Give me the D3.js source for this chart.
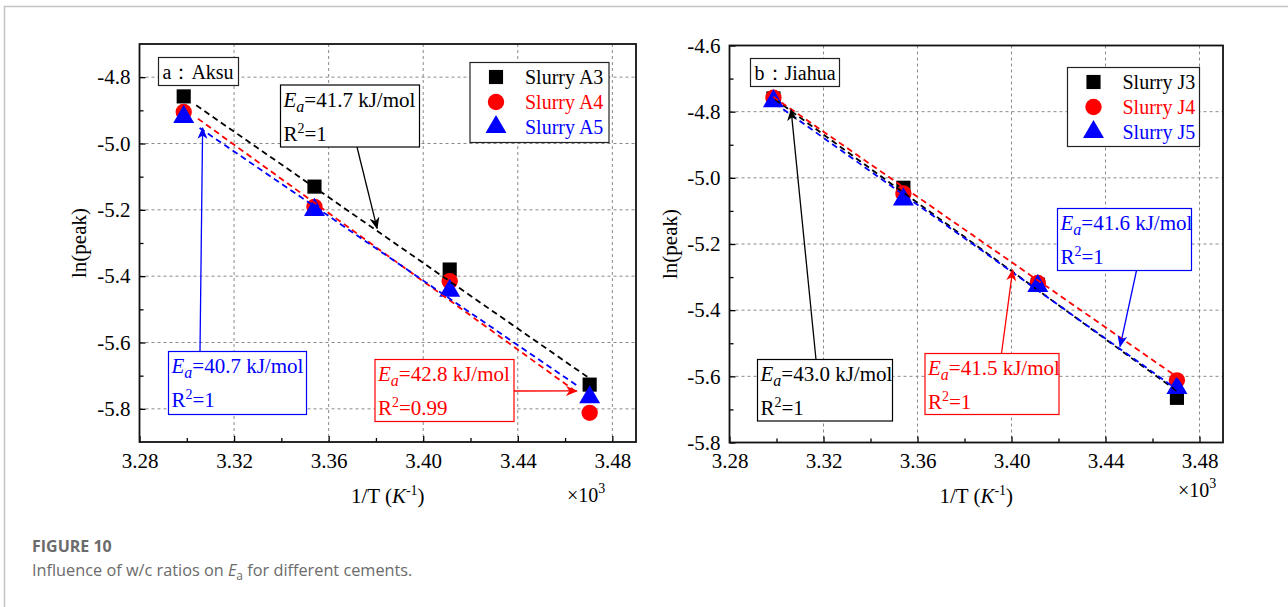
<!DOCTYPE html>
<html>
<head>
<meta charset="utf-8">
<script src="https://cdn.jsdelivr.net/npm/d3@7"></script>
<style>
  body { margin: 0; background: #fff; }
  svg { display: block; }
</style>
</head>
<body>
<div id="chart"></div>
<script>
// 1/T values (x10^-3 K^-1) for 30, 25, 20 and 15 °C
const invT = [3.2987, 3.3540, 3.4112, 3.4704]
const xTicks = [3.28, 3.32, 3.36, 3.40, 3.44, 3.48]
const xMinor = [3.30, 3.34, 3.38, 3.42, 3.46]
const aksuTicks = [-4.8, -5.0, -5.2, -5.4, -5.6, -5.8]
const aksuMinor = [-4.9, -5.1, -5.3, -5.5, -5.7]
const jiahuaTicks = [-4.6, -4.8, -5.0, -5.2, -5.4, -5.6, -5.8]
const jiahuaMinor = [-4.7, -4.9, -5.1, -5.3, -5.5, -5.7]

// ln(peak)
const slurryA3 = [-4.858, -5.130, -5.380, -5.727]
const slurryA4 = [-4.905, -5.191, -5.415, -5.812]
const slurryA5 = [-4.920, -5.200, -5.444, -5.765]
const slurryJ3 = [-4.760, -5.030, -5.323, -5.665]
const slurryJ4 = [-4.758, -5.047, -5.318, -5.612]
const slurryJ5 = [-4.768, -5.065, -5.327, -5.635]

// fitted lines (end points)
const fitA3 = [[3.304, -4.885], [3.4697, -5.705]]
const fitA4 = [[3.3047, -4.925], [3.465, -5.750]]
const fitA5 = [[3.3054, -4.953], [3.4657, -5.733]]
const fitJ3 = [[3.2994, -4.763], [3.4705, -5.645]]
const fitJ4 = [[3.2986, -4.755], [3.4717, -5.608]]
const fitJ5 = [[3.2994, -4.775], [3.4705, -5.640]]

const seriesNamesA = ["Slurry A3", "Slurry A4", "Slurry A5"]
const seriesNamesJ = ["Slurry J3", "Slurry J4", "Slurry J5"]
const colors = ["#000000", "#ff0000", "#0000ff"]
const shapes = [d3.symbolSquare, d3.symbolCircle, d3.symbolTriangle]
const symSizes = [200, 210, 190]

const serif = "'Liberation Serif', 'Times New Roman', serif"

const svg = d3.select("#chart").append("svg")
  .attr("width", 1288)
  .attr("height", 607)

// page frame
svg.append("path")
  .attr("d", "M4.5,607 L4.5,6.5 L1288,6.5")
  .attr("fill", "none")
  .attr("stroke", "#c4c4c4")
  .attr("stroke-width", 1.5)

// arrow heads
const defs = svg.append("defs")
colors.forEach((c, i) => {
  defs.append("marker")
    .attr("id", "arr" + i)
    .attr("viewBox", "0 0 12 10")
    .attr("refX", 11).attr("refY", 5)
    .attr("markerWidth", 12).attr("markerHeight", 10)
    .attr("markerUnits", "userSpaceOnUse")
    .attr("orient", "auto")
    .append("path")
    .attr("d", "M0,0 L12,5 L0,10 L3.5,5 Z")
    .attr("fill", c)
})

const eaText = (sel, x, y, value, r2, color) => {
  const t1 = sel.append("text")
    .attr("x", x).attr("y", y)
    .attr("fill", color)
    .attr("font-family", serif)
    .attr("font-size", 21)
  t1.append("tspan").attr("font-style", "italic").text("E")
  t1.append("tspan").attr("font-style", "italic").attr("font-size", 16).attr("dy", 5).text("a")
  t1.append("tspan").attr("dy", -5).text(`=${value} kJ/mol`)
  const t2 = sel.append("text")
    .attr("x", x).attr("y", y + 34)
    .attr("fill", color)
    .attr("font-family", serif)
    .attr("font-size", 21)
  t2.append("tspan").text("R")
  t2.append("tspan").attr("font-size", 14).attr("dy", -8).text("2")
  t2.append("tspan").attr("dy", 8).text(`=${r2}`)
}

const drawPanel = (p) => {
  const x = d3.scaleLinear().domain([3.28, 3.49]).range([p.left, p.right])
  const y = d3.scaleLinear().domain(p.yDomain).range([p.bottom, p.top])
  const g = svg.append("g")

  // grid
  g.selectAll(null)
    .data(xTicks.filter(d => d > 3.28))
    .join("line")
    .attr("x1", d => x(d)).attr("x2", d => x(d))
    .attr("y1", p.top).attr("y2", p.bottom)
    .attr("stroke", "#8a8a8a").attr("stroke-width", 1)
    .attr("stroke-dasharray", "3,3")
  g.selectAll(null)
    .data(p.yTicks.filter(d => y(d) > p.top + 1 && y(d) < p.bottom - 1))
    .join("line")
    .attr("x1", p.left).attr("x2", p.right)
    .attr("y1", d => y(d)).attr("y2", d => y(d))
    .attr("stroke", "#8a8a8a").attr("stroke-width", 1)
    .attr("stroke-dasharray", "3,3")

  // axes with inward ticks
  g.append("g")
    .attr("transform", `translate(0,${p.bottom})`)
    .call(d3.axisBottom(x).tickValues(xTicks).tickSizeInner(-6).tickSizeOuter(0)
      .tickPadding(11).tickFormat(d => d.toFixed(2)))
  g.append("g")
    .attr("transform", `translate(0,${p.bottom})`)
    .call(d3.axisBottom(x).tickValues(xMinor).tickSizeInner(-4).tickSizeOuter(0).tickFormat(""))
  g.append("g")
    .attr("transform", `translate(${p.left},0)`)
    .call(d3.axisLeft(y).tickValues(p.yTicks).tickSizeInner(-6).tickSizeOuter(0)
      .tickPadding(9).tickFormat(d => d.toFixed(1)))
  g.append("g")
    .attr("transform", `translate(${p.left},0)`)
    .call(d3.axisLeft(y).tickValues(p.yMinor).tickSizeInner(-4).tickSizeOuter(0).tickFormat(""))
  g.selectAll(".domain").remove()
  g.selectAll(".tick line").attr("stroke", "#000").attr("stroke-width", 1.3)
  g.selectAll(".tick text")
    .attr("font-family", serif)
    .attr("font-size", 21)
    .attr("fill", "#000")

  // frame
  g.append("rect")
    .attr("x", p.left).attr("y", p.top)
    .attr("width", p.right - p.left).attr("height", p.bottom - p.top)
    .attr("fill", "none").attr("stroke", "#111").attr("stroke-width", 1.8)

  // markers
  p.series.forEach((s, i) => {
    g.selectAll(null)
      .data(s)
      .join("path")
      .attr("transform", (d, j) => `translate(${x(invT[j])},${y(d)})`)
      .attr("d", d3.symbol(shapes[i], symSizes[i]))
      .attr("fill", colors[i])
  })

  // fit lines
  p.fits.forEach((f, i) => {
    g.append("path")
      .datum(f)
      .attr("fill", "none")
      .attr("stroke", colors[i])
      .attr("stroke-width", 1.8)
      .attr("stroke-dasharray", "6,4")
      .attr("d", d3.line()
        .x(function(d) { return x(d[0]) })
        .y(function(d) { return y(d[1]) })
      )
  })

  // panel label
  const lb = g.append("g")
  lb.append("rect")
    .attr("x", p.label.x).attr("y", p.label.y)
    .attr("width", p.label.w).attr("height", 28)
    .attr("fill", "#fff").attr("stroke", "#222").attr("stroke-width", 1.2)
  lb.append("text")
    .attr("x", p.label.x + 4).attr("y", p.label.y + 21)
    .attr("font-family", serif).attr("font-size", 20)
    .text(p.label.text)

  // legend
  const lg = g.append("g").attr("transform", `translate(${p.legend.x},${p.legend.y})`)
  lg.append("rect")
    .attr("width", p.legend.w).attr("height", p.legend.h)
    .attr("fill", "#fff").attr("stroke", "#222").attr("stroke-width", 1.2)
  p.names.forEach((n, i) => {
    lg.append("path")
      .attr("transform", `translate(26,${14.5 + i * 25})`)
      .attr("d", d3.symbol(shapes[i], symSizes[i]))
      .attr("fill", colors[i])
    lg.append("text")
      .attr("x", 55).attr("y", 21.5 + i * 25)
      .attr("font-family", serif).attr("font-size", 20)
      .attr("fill", colors[i])
      .text(n)
  })

  // annotations
  p.notes.forEach(a => {
    const c = colors[a.c]
    g.append("line")
      .attr("x1", a.from[0]).attr("y1", a.from[1])
      .attr("x2", x(a.to[0])).attr("y2", y(a.to[1]))
      .attr("stroke", c).attr("stroke-width", 1.3)
      .attr("marker-end", `url(#arr${a.c})`)
    g.append("rect")
      .attr("x", a.box[0]).attr("y", a.box[1])
      .attr("width", a.box[2]).attr("height", a.box[3])
      .attr("fill", "#fff").attr("stroke", c).attr("stroke-width", 1.2)
    eaText(g, a.box[0] + 3, a.box[1] + 21.5, a.ea, a.r2, c)
  })

  // axis titles
  g.append("text")
    .attr("transform", `translate(${p.yTitleX},${(p.top + p.bottom) / 2}) rotate(-90)`)
    .attr("text-anchor", "middle")
    .attr("font-family", serif).attr("font-size", 21)
    .text("ln(peak)")
  const xt = g.append("text")
    .attr("x", (p.left + p.right) / 2).attr("y", 503)
    .attr("text-anchor", "middle")
    .attr("font-family", serif).attr("font-size", 21)
  xt.append("tspan").text("1/T (")
  xt.append("tspan").attr("font-style", "italic").text("K")
  xt.append("tspan").attr("font-size", 14).attr("dy", -8).text("-1")
  xt.append("tspan").attr("dy", 8).text(")")
  const mul = g.append("text")
    .attr("x", p.mult[0]).attr("y", p.mult[1])
    .attr("font-family", serif).attr("font-size", 20)
  mul.append("tspan").text("×10")
  mul.append("tspan").attr("font-size", 14).attr("dy", -9).text("3")
}

drawPanel({
  left: 139.5, right: 636, top: 44, bottom: 442,
  yDomain: [-5.9, -4.7], yTicks: aksuTicks, yMinor: aksuMinor,
  series: [slurryA3, slurryA4, slurryA5],
  fits: [fitA3, fitA4, fitA5],
  names: seriesNamesA,
  label: { x: 158.5, y: 57.5, w: 80, text: "a：Aksu" },
  legend: { x: 470, y: 62.5, w: 139, h: 80 },
  notes: [
    { c: 0, ea: "41.7", r2: "1", box: [280.5, 85, 139, 62], from: [357, 147], to: [3.3805, -5.256] },
    { c: 2, ea: "40.7", r2: "1", box: [168.5, 351.5, 138, 63], from: [200, 351.5], to: [3.3067, -4.953] },
    { c: 1, ea: "42.8", r2: "0.99", box: [375, 359.5, 139, 62], from: [514, 391], to: [3.465, -5.746] }
  ],
  yTitleX: 86,
  mult: [567, 502]
})

drawPanel({
  left: 729.5, right: 1223, top: 45.5, bottom: 442.5,
  yDomain: [-5.8, -4.6], yTicks: jiahuaTicks, yMinor: jiahuaMinor,
  series: [slurryJ3, slurryJ4, slurryJ5],
  fits: [fitJ3, fitJ4, fitJ5],
  names: seriesNamesJ,
  label: { x: 750.5, y: 58.5, w: 89, text: "b：Jiahua" },
  legend: { x: 1067.5, y: 67.5, w: 132, h: 79 },
  notes: [
    { c: 2, ea: "41.6", r2: "1", box: [1057.5, 208.5, 134, 62], from: [1136.5, 270.5], to: [3.4462, -5.51] },
    { c: 0, ea: "43.0", r2: "1", box: [757.5, 359.5, 135, 61.5], from: [816, 359.5], to: [3.3062, -4.794] },
    { c: 1, ea: "41.5", r2: "1", box: [925, 353.5, 134, 61], from: [1001.5, 353.5], to: [3.4005, -5.278] }
  ],
  yTitleX: 677,
  mult: [1178, 497]
})

// caption
svg.append("text")
  .attr("x", 32).attr("y", 552)
  .attr("font-family", "'Open Sans', 'Noto Sans', sans-serif")
  .attr("font-size", 16).attr("font-weight", 700)
  .attr("fill", "#6b6b6b")
  .text("FIGURE 10")
const cap = svg.append("text")
  .attr("x", 32).attr("y", 576)
  .attr("font-family", "'Open Sans', 'Noto Sans', sans-serif")
  .attr("font-size", 16.3)
  .attr("fill", "#6b6b6b")
cap.append("tspan").text("Influence of w/c ratios on ")
cap.append("tspan").attr("font-style", "italic").text("E")
cap.append("tspan").attr("font-size", 12).attr("dy", 4).text("a")
cap.append("tspan").attr("dy", -4).text(" for different cements.")
</script>
</body>
</html>
